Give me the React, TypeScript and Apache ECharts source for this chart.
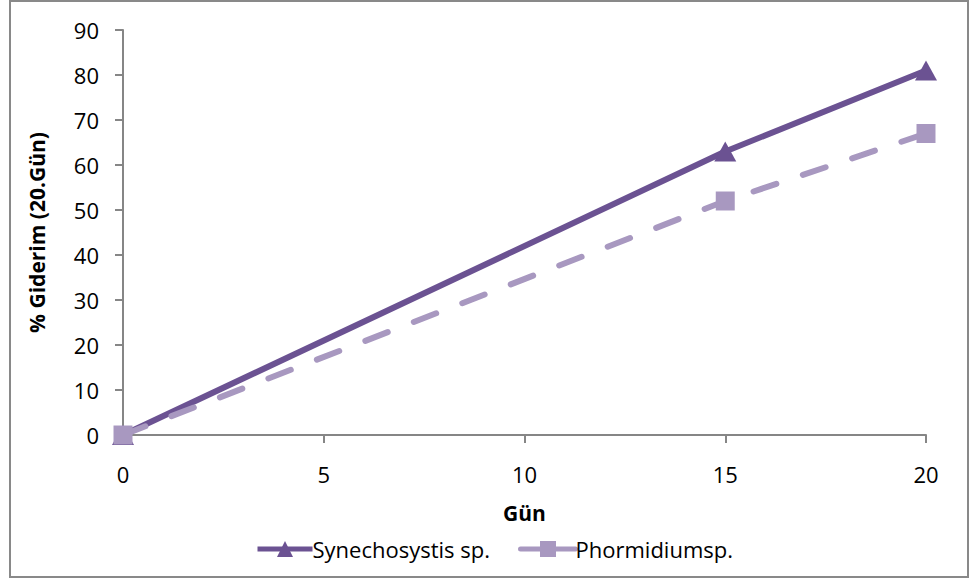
import React, { useEffect, useRef } from "react";
import * as echarts from "echarts";

const xTicks = [0, 5, 10, 15, 20];
const synechoData: [number, number][] = [
  [0, 0],
  [15, 63],
  [20, 81],
];
const phormidiumData: [number, number][] = [
  [0, 0],
  [15, 52],
  [20, 67],
];
const seriesNames = ["Synechosystis sp.", "Phormidiumsp."];
const xAxisTitle = "Gün";
const yAxisTitle = "% Giderim (20.Gün)";

const FONT = "'Open Sans', 'Noto Sans', sans-serif";
const DARK = "#6b5292";
const LIGHT = "#a898c0";
const AXIS = "#868686";

export default function App() {
  const ref = useRef<HTMLDivElement>(null);
  useEffect(() => {
    if (!ref.current) return;
    const chart = echarts.init(ref.current, undefined, { renderer: "svg" });
    chart.setOption({
      animation: false,
      backgroundColor: "#ffffff",
      textStyle: { fontFamily: FONT },
      graphic: [
        {
          type: "rect",
          shape: { x: 10, y: 1, width: 958, height: 576 },
          style: { fill: "none", stroke: "#898989", lineWidth: 2 },
          silent: true,
        },
      ],
      grid: { left: 123, right: 43, top: 30, bottom: 146, containLabel: false },
      legend: {
        bottom: 16,
        left: 250,
        itemWidth: 55,
        itemHeight: 20,
        itemGap: 28,
        lineStyle: { type: "solid", width: 5 },
        textStyle: { fontFamily: FONT, fontSize: 22, color: "#000", padding: [0, 0, 0, -5] },
        data: seriesNames,
      },
      xAxis: {
        type: "value",
        min: xTicks[0],
        max: xTicks[xTicks.length - 1],
        interval: 5,
        name: xAxisTitle,
        nameLocation: "middle",
        nameGap: 67,
        nameTextStyle: { fontFamily: FONT, fontSize: 21, fontWeight: "bold", color: "#000" },
        axisLine: { lineStyle: { color: AXIS, width: 2 } },
        axisTick: { show: true, inside: false, length: 8, lineStyle: { color: AXIS, width: 2 } },
        axisLabel: { margin: 28, fontFamily: FONT, fontSize: 22, color: "#000" },
        splitLine: { show: false },
      },
      yAxis: {
        type: "value",
        min: 0,
        max: 90,
        interval: 10,
        name: yAxisTitle,
        nameLocation: "middle",
        nameGap: 76,
        nameTextStyle: { fontFamily: FONT, fontSize: 21, fontWeight: "bold", color: "#000" },
        axisLine: { show: true, lineStyle: { color: AXIS, width: 2 } },
        axisTick: { show: true, inside: false, length: 8, lineStyle: { color: AXIS, width: 2 } },
        axisLabel: { margin: 24, fontFamily: FONT, fontSize: 22, color: "#000" },
        splitLine: { show: false },
      },
      series: [
        {
          name: seriesNames[0],
          type: "line",
          data: synechoData,
          symbol: "triangle",
          symbolSize: [22, 20],
          itemStyle: { color: DARK },
          lineStyle: { color: DARK, width: 6 },
        },
        {
          name: seriesNames[1],
          type: "line",
          data: phormidiumData,
          symbol: "rect",
          symbolSize: 19,
          itemStyle: { color: LIGHT },
          lineStyle: { color: LIGHT, width: 6, type: [24, 28], cap: "round" },
        },
      ],
    });
    return () => chart.dispose();
  }, []);
  return (
    <div
      ref={ref}
      style={{ position: "absolute", left: 0, top: 0, width: 969, height: 581 }}
    />
  );
}
